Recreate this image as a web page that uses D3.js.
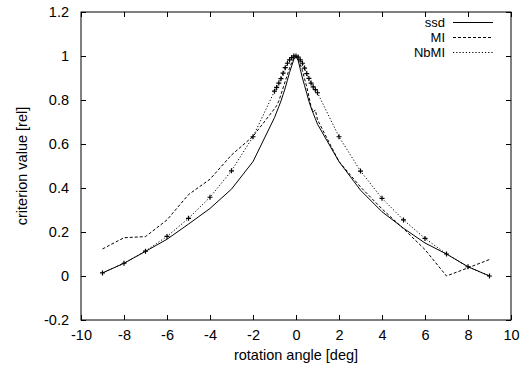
<!DOCTYPE html>
<html>
<head>
<meta charset="utf-8">
<script src="https://cdn.jsdelivr.net/npm/d3@7"></script>
<style>
  body { margin: 0; background: #fff; }
  svg text { font-family: "Liberation Sans", Arial, sans-serif; font-size: 14.5px; fill: #000; }
</style>
</head>
<body>
<div id="chart"></div>
<script>
// rotation angles (deg) - dense sampling around 0
var angles = [-9, -8, -7, -6, -5, -4, -3, -2,
  -1, -0.9, -0.8, -0.7, -0.6, -0.5, -0.4, -0.3, -0.2, -0.1, 0,
  0.1, 0.2, 0.3, 0.4, 0.5, 0.6, 0.7, 0.8, 0.9, 1,
  2, 3, 4, 5, 6, 7, 8, 9]

var ssd = [0.014, 0.058, 0.112, 0.167, 0.236, 0.307, 0.395, 0.52,
  0.72, 0.745, 0.77, 0.795, 0.825, 0.855, 0.89, 0.925, 0.955, 0.985, 1.0,
  0.98, 0.94, 0.9, 0.865, 0.83, 0.795, 0.765, 0.74, 0.715, 0.69,
  0.52, 0.39, 0.292, 0.217, 0.15, 0.1, 0.042, 0.0]

var mi = [0.123, 0.174, 0.179, 0.255, 0.37, 0.44, 0.55, 0.635,
  0.76, 0.775, 0.795, 0.825, 0.855, 0.885, 0.915, 0.945, 0.97, 0.99, 1.0,
  0.985, 0.96, 0.935, 0.895, 0.86, 0.815, 0.77, 0.745, 0.755, 0.71,
  0.52, 0.405, 0.305, 0.215, 0.12, 0.0, 0.037, 0.075]

var nbmi = [0.014, 0.058, 0.113, 0.18, 0.262, 0.358, 0.478, 0.633,
  0.84, 0.857, 0.877, 0.897, 0.922, 0.947, 0.967, 0.982, 0.993, 1.0, 1.0,
  0.995, 0.982, 0.967, 0.945, 0.92, 0.898, 0.877, 0.86, 0.847, 0.833,
  0.633, 0.477, 0.353, 0.255, 0.171, 0.1, 0.042, 0.0]

var seriesNames = ["ssd", "MI", "NbMI"]
var xTicks = [-10, -8, -6, -4, -2, 0, 2, 4, 6, 8, 10]
var yTicks = [-0.2, 0, 0.2, 0.4, 0.6, 0.8, 1, 1.2]

var width = 525, height = 370
var margin = {top: 12, right: 14, bottom: 50, left: 81}
var w = width - margin.left - margin.right
var h = height - margin.top - margin.bottom

var svg = d3.select("#chart").append("svg")
    .attr("width", width)
    .attr("height", height)

var g = svg.append("g")
    .attr("transform", "translate(" + margin.left + "," + margin.top + ")")

var x = d3.scaleLinear().domain([-10, 10]).range([0, w])
var y = d3.scaleLinear().domain([-0.2, 1.2]).range([h, 0])

// plain hyphen minus like gnuplot
var fmt = function(d) { return String(+d.toFixed(1)) }

// axes - ticks point inward, mirrored on top/right
g.append("g").attr("transform", "translate(0," + h + ")")
    .call(d3.axisBottom(x).tickValues(xTicks).tickFormat(fmt).tickSizeInner(-5).tickSizeOuter(0).tickPadding(10))
g.append("g")
    .call(d3.axisLeft(y).tickValues(yTicks).tickFormat(fmt).tickSizeInner(-5).tickSizeOuter(0).tickPadding(12))
g.append("g")
    .call(d3.axisTop(x).tickValues(xTicks).tickFormat("").tickSizeInner(-5).tickSizeOuter(0))
g.append("g").attr("transform", "translate(" + w + ",0)")
    .call(d3.axisRight(y).tickValues(yTicks).tickFormat("").tickSizeInner(-5).tickSizeOuter(0))

g.selectAll(".domain").remove()
g.selectAll(".tick line").attr("stroke", "#000")
g.selectAll(".tick text").attr("font-size", "14.5px").attr("font-family", "Liberation Sans, Arial, sans-serif")

g.append("rect")
    .attr("width", w)
    .attr("height", h)
    .attr("fill", "none")
    .attr("stroke", "#000")
    .attr("stroke-width", 1)

// axis titles
svg.append("text")
    .attr("x", margin.left + w / 2)
    .attr("y", 360)
    .attr("text-anchor", "middle")
    .text("rotation angle [deg]")

svg.append("text")
    .attr("transform", "translate(27," + (margin.top + h / 2) + ") rotate(-90)")
    .attr("text-anchor", "middle")
    .text("criterion value [rel]")

// lines
var line = d3.line()
    .x(function(d) { return x(d[0]) })
    .y(function(d) { return y(d[1]) })

var dashes = ["none", "3,2", "1.2,2"]
var allSeries = [ssd, mi, nbmi]

allSeries.forEach(function(vals, i) {
  var pts = angles.map(function(a, j) { return [a, vals[j]] })
  g.append("path")
      .datum(pts)
      .attr("d", line)
      .attr("fill", "none")
      .attr("stroke", "#000")
      .attr("stroke-width", 1)
      .attr("stroke-dasharray", dashes[i])
})

// NbMI point markers (+)
g.selectAll(".mark")
    .data(angles.map(function(a, j) { return [a, nbmi[j]] }))
    .enter().append("path")
    .attr("class", "mark")
    .attr("transform", function(d) { return "translate(" + x(d[0]) + "," + y(d[1]) + ")" })
    .attr("d", "M-2.5,0H2.5M0,-2.5V2.5")
    .attr("stroke", "#000")
    .attr("stroke-width", 1.2)

// legend
var legend = svg.append("g")
seriesNames.forEach(function(name, i) {
  var ly = 22.5 + i * 15
  legend.append("text")
      .attr("x", 445)
      .attr("y", ly)
      .attr("dy", "0.35em")
      .attr("text-anchor", "end")
      .style("font-size", "13px")
      .text(name)
  legend.append("line")
      .attr("x1", 453).attr("x2", 493)
      .attr("y1", ly).attr("y2", ly)
      .attr("stroke", "#000")
      .attr("stroke-width", 1)
      .attr("stroke-dasharray", dashes[i])
})
</script>
</body>
</html>
